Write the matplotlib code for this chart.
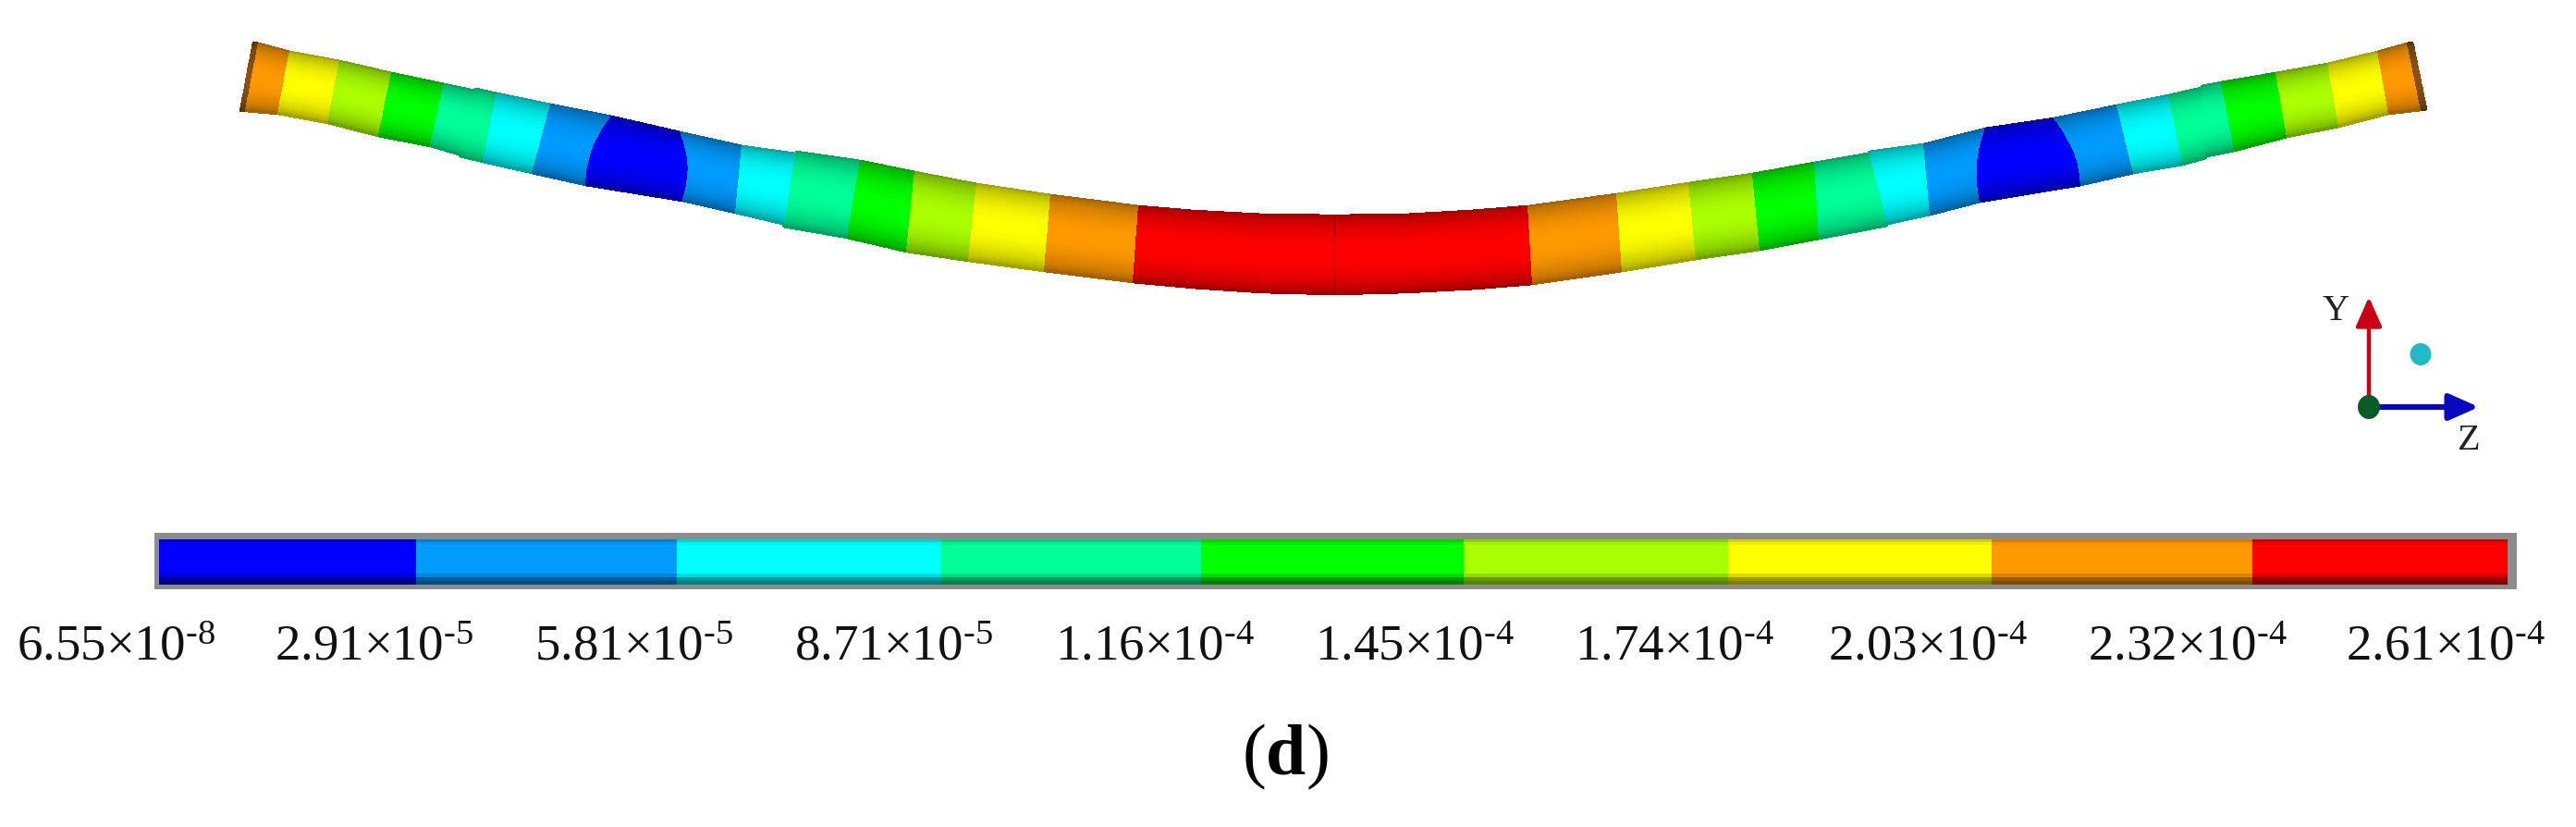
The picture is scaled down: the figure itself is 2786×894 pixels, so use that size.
import numpy as np
import matplotlib
matplotlib.use("Agg")
import matplotlib.pyplot as plt
from matplotlib.colors import to_rgb
from matplotlib.patches import Ellipse, Polygon

plt.rcParams['font.family'] = ['Liberation Serif', 'DejaVu Serif']
plt.rcParams['mathtext.fontset'] = 'custom'
plt.rcParams['mathtext.rm'] = 'Liberation Serif'
plt.rcParams['mathtext.it'] = 'Liberation Serif'
plt.rcParams['mathtext.bf'] = 'Liberation Serif:bold'

BLUE, SKY, CYAN, TEAL, GREEN, LIME, YELLOW, ORANGE, RED = (
    '#0000ff', '#009bff', '#00ffff', '#00ff99', '#00ff00',
    '#aaff00', '#ffff00', '#ff9900', '#ff0000')
CAP = '#8a5010'

scale_colors = [BLUE, SKY, CYAN, TEAL, GREEN, LIME, YELLOW, ORANGE, RED]
scale_edges = [172, 450, 732, 1018, 1299, 1583, 1869, 2154, 2436, 2712]
scale_labels = ['6.55', '2.91', '5.81', '8.71', '1.16', '1.45', '1.74', '2.03', '2.32', '2.61']
scale_exps = ['-8', '-5', '-5', '-5', '-4', '-4', '-4', '-4', '-4', '-4']
label_x = [125, 404, 685, 966, 1249, 1530, 1811, 2085, 2366, 2645]

# tube stations: top edge, bottom edge, curve of the boundary, colour of the band after it
top_x = [273, 279, 313, 367, 423, 480, 513, 514, 537, 595, 661, 735, 802, 860, 861, 930, 989, 1056, 1136, 1231, 1290, 1365, 1443, 1520, 1590, 1652, 1748, 1826, 1895, 1962, 2020, 2021, 2080, 2147, 2221, 2289, 2345, 2380, 2381, 2402, 2461, 2517, 2571, 2603, 2609]
top_y = [45, 46, 55, 65, 78, 90, 97, 95, 100, 112, 125, 142, 157, 165, 163, 173, 185, 198, 210, 222, 227, 231, 232, 231, 227, 222, 209, 197, 187, 175, 165, 163, 155, 138, 127, 113, 102, 94, 92, 88, 78, 68, 55, 46, 45]
bot_x = [259, 265, 300, 354, 409, 465, 496, 497, 522, 575, 633, 738, 795, 846, 847, 916, 980, 1047, 1129, 1225, 1290, 1365, 1443, 1520, 1595, 1657, 1754, 1834, 1903, 1967, 2040, 2041, 2087, 2141, 2250, 2307, 2360, 2385, 2386, 2416, 2473, 2529, 2583, 2618, 2624]
bot_y = [120, 120, 123, 133, 147, 158, 167, 169, 175, 187, 200, 217, 230, 242, 245, 257, 272, 282, 293, 305, 311, 316, 318, 316, 312, 307, 293, 280, 270, 258, 244, 242, 232, 218, 200, 187, 178, 171, 169, 163, 148, 137, 123, 119, 118]
bulge = [0, 0, 0, 0, 0, 0, 0, 0, 0, 0, -7, 7, 0, 0, 0, 0, 0, 0, 0, 0, 0, 0, 0, 0, 0, 0, 0, 0, 0, 0, 0, 0, 0, -6, 7, 0, 0, 0, 0, 0, 0, 0, 0, 0, 0]
band_colors = [CAP, ORANGE, YELLOW, LIME, GREEN, TEAL, TEAL, TEAL, CYAN, SKY, BLUE, SKY, CYAN, CYAN, TEAL, GREEN, LIME, YELLOW, ORANGE, RED, RED, RED, RED, RED, RED, ORANGE, YELLOW, LIME, GREEN, TEAL, TEAL, CYAN, SKY, BLUE, SKY, CYAN, TEAL, TEAL, TEAL, GREEN, LIME, YELLOW, ORANGE, CAP]

fig = plt.figure(figsize=(27.86, 8.94), dpi=100)
ax = fig.add_axes([0, 0, 1, 1])
ax.set_xlim(0, 2786)
ax.set_ylim(894, 0)
ax.axis('off')

# tube
t = np.linspace(0, 1, 41)
tc = 0.5 * (t[:-1] + t[1:])
shade = 0.55 + 0.45 * np.sin(np.pi * tc) ** 0.5
tx, ty, bx, by, bu = map(np.asarray, (top_x, top_y, bot_x, bot_y, bulge))
X = np.outer(1 - t, tx) + np.outer(t, bx) + np.outer(np.sin(np.pi * t), bu)
Y = np.outer(1 - t, ty) + np.outer(t, by)
rgb = np.array([to_rgb(c) for c in band_colors])
C = shade[:, None, None] * rgb[None, :, :]
ax.pcolormesh(X, Y, C, shading='flat', edgecolors='face', linewidth=0.4, zorder=2)
i_mid = top_x.index(1443)
ax.plot([top_x[i_mid], bot_x[i_mid]], [top_y[i_mid], bot_y[i_mid]], color='#700000', lw=0.9, zorder=3)

# colour scale
ax.add_patch(Polygon([(167, 576), (2722, 576), (2722, 637), (167, 637)], closed=True,
                     fc='#8c8c8c', ec='none', zorder=1))
ys = np.array([583, 586, 589, 620, 624, 628, 632])
row_shade = np.array([0.82, 0.95, 1.0, 0.85, 0.6, 0.5])
sc = np.array([to_rgb(c) for c in scale_colors])
ax.pcolormesh(np.array(scale_edges), ys, row_shade[:, None, None] * sc[None, :, :],
              shading='flat', zorder=2)
for x0, lab, e in zip(label_x, scale_labels, scale_exps):
    ax.text(x0, 713, rf'$\mathrm{{{lab}{{\times}}10^{{\text{{{e}}}}}}}$', ha='center', va='baseline',
            fontsize=39.5, color='#111111')

# triad
ax.annotate('', xy=(2562, 321), xytext=(2562, 440),
            arrowprops=dict(arrowstyle='-|>,head_width=0.43,head_length=0.97', mutation_scale=20,
                            color='#c80014', lw=3.2, shrinkA=0, shrinkB=0), zorder=4)
ax.annotate('', xy=(2681, 440), xytext=(2562, 440),
            arrowprops=dict(arrowstyle='-|>,head_width=0.43,head_length=0.97', mutation_scale=20,
                            color='#0808c0', lw=4.4, shrinkA=0, shrinkB=0), zorder=4)
ax.add_patch(Ellipse((2562, 440), 24, 26, fc='#0a5a28', ec='none', zorder=5))
ax.add_patch(Ellipse((2618, 383), 23, 24, fc='#22b8c8', ec='none', zorder=5))
ax.text(2526, 337, 'Y', ha='center', va='center', fontsize=29, color='#222222')
ax.text(2669, 477, 'Z', ha='center', va='center', fontsize=29, color='#222222')

# panel label
ax.text(1390, 837, r'($\mathbf{d}$)', ha='center', va='baseline', fontsize=56, color='black')

fig.savefig('out.png', dpi=100, facecolor='white')
